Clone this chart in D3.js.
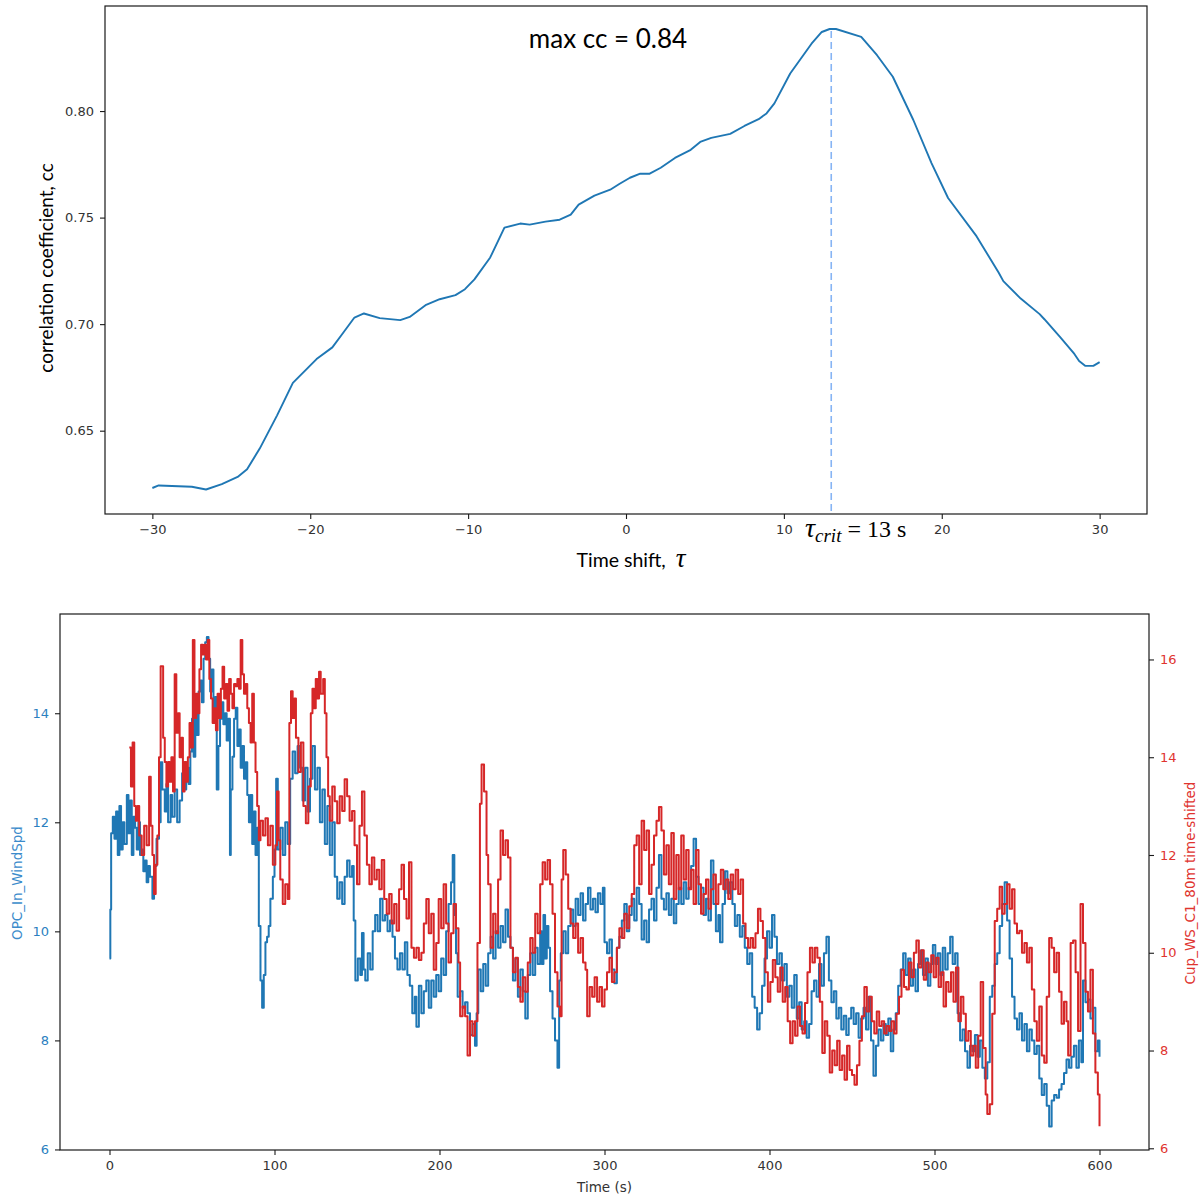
<!DOCTYPE html>
<html><head><meta charset="utf-8">
<script src="https://cdn.jsdelivr.net/npm/d3@7"></script>
<style>body{margin:0;background:#fff} svg{display:block}</style>
</head><body>
<svg id="c" width="1200" height="1196"></svg>
<script>
// ---------- Top chart data: cross-correlation vs time shift ----------
const tau = [-30,-29.6,-27.5,-26.6,-25.6,-24.6,-24.0,-23.2,-22.1,-21.1,-19.6,-18.6,-17.9,-17.2,-16.6,-15.6,-14.3,-13.7,-12.7,-11.8,-10.8,-10.2,-9.6,-8.6,-7.7,-6.7,-6.1,-5.1,-4.2,-3.5,-3.0,-2.0,-1.0,-0.4,0.25,0.9,1.5,2.2,3.1,4.1,4.7,5.4,6.6,7.5,8.4,8.9,9.4,10.4,11.75,12.4,12.9,13.3,14.9,15.9,16.9,18.2,19.35,20.4,22.2,23.6,23.9,25.0,26.2,26.5,27.5,28.4,28.7,29.1,29.6,30];
const cc  = [0.6231,0.6243,0.6237,0.6224,0.6249,0.6283,0.6319,0.6416,0.6572,0.6724,0.6836,0.6891,0.6961,0.7031,0.7050,0.7028,0.7019,0.7034,0.7089,0.7117,0.7136,0.7164,0.7210,0.7313,0.7453,0.7472,0.7467,0.7481,0.7490,0.7514,0.7561,0.7603,0.7631,0.7659,0.7687,0.7706,0.7706,0.7734,0.7780,0.7818,0.7855,0.7874,0.7893,0.7930,0.7962,0.7989,0.8036,0.8176,0.8316,0.8371,0.8385,0.8385,0.8348,0.8262,0.8161,0.7958,0.7756,0.7592,0.7413,0.7242,0.7202,0.7120,0.7047,0.7023,0.6939,0.6860,0.6827,0.6804,0.6804,0.6822];
const tauTicks = [-30,-20,-10,0,10,20,30];
const ccTicks = [0.65,0.70,0.75,0.80];
const tauCrit = 13;
const maxCC = 0.84;

// ---------- Bottom chart data: wind speed time series ----------
const opcTime = [0,0.5,1,2,3,4,5,6,7,8,9,10.5,11.5,12.5,13.5,14.5,15.5,16.5,17.5,18.5,19.5,20.5,21.5,22.5,23.5,24.5,26,27,28.5,30,31,32,33.5,34.5,35.5,37,38,39.5,41,42.5,44,45.5,46.5,48,49,50,51,52,53,54,55,56,57,58,59,60,61,62,63,64,65,66,67,68,69,70,71,72,73,73.5,74.5,75.5,76.5,77.5,78.5,79.5,80.5,81.5,82.5,83.5,84.5,85.5,86.5,87.5,88.5,89.5,90.5,91.5,92.5,93.5,94.5,95.5,96.5,97.5,99,100,101,102,103.5,105,106.5,108,109.5,111,112.5,114,115.5,117,118.5,120,121.5,123,124.5,126,127.5,129,130.5,132,133.5,135,136.5,138,139.5,141,142.5,144,145.5,147,148,149,150.5,152,153,154,155,156.5,158,159.5,161,162.5,164,165.5,167,168.5,170,171.5,173,174.5,176,177.5,179,180.5,182,183.5,185,186,187.5,189,190.5,192,193.5,195,196.5,198,199.5,201,202.5,204,205.5,207,208,209,210,211,212.5,214,215.5,217,218.5,220,221.5,222.5,223.5,225,226.5,228,229.5,231,232.5,234,235.5,237,238.5,240,241.5,243,244.5,246,247.5,249,250.5,252,253.5,255,256.5,258,259.5,261,262,263,264,265,266,267,268.5,270,271.5,272.5,273.5,275,276.5,278,279.5,281,282.5,284,285.5,287,288.5,290,291.5,293,294.5,296,297.5,299,300,301.5,303,304.5,306,307.5,309,310.5,312,313.5,315,316.5,318,319.5,321,322.5,324,325.5,327,328.5,330,331.5,333,334.5,336,337.5,339,340.5,342,343.5,345,346.5,348,349.5,351,352.5,354,355.5,357,358.5,360,361.5,363,364.5,366,367.5,369,370,371.5,373,374.5,376,377.5,379,380.5,382,383.5,385,386.5,388,389.5,391,392.5,394,395.5,397,398.5,400,401.5,403,404.5,406,407.5,409,410.5,412,413.5,415,416.5,418,419.5,421,422.5,424,425.5,427,428.5,430,431.5,433,434.5,436,437.5,439,440.5,442,443.5,445,446.5,448,449.5,451,452.5,454,455.5,457,458.5,460,461.5,463,464.5,466,467.5,469,470.5,472,473.5,475,476.5,478,479.5,481,482.5,484,485.5,487,488.5,490,491.5,493,494.5,496,497.5,499,500.5,502,503.5,505,506.5,508,509.5,511,512.5,514,515.5,517,518.5,520,521.5,523,524.5,526,527.5,529,530.5,532,533.5,535,536.5,538,539.5,541,542.5,544,545.5,547,548.5,550,551.5,553,554.5,556,557.5,559,560.5,562,563.5,565,566.5,568,569.5,571,572.5,574,575.5,577,578.5,580,581.5,583,584.5,586,587.5,589,590,591.5,593,594.5,596,597.5,599,600];
const opcSpeed = [9.5,10.4,11.8,12.1,11.7,12.2,11.4,12.3,11.5,12.0,11.6,12.5,11.8,12.4,11.4,12.1,11.9,11.5,12.0,11.4,11.5,11.1,11.3,10.9,11.2,11.0,10.6,11.2,11.7,12.0,13.1,12.6,12.2,12.7,12.0,12.5,12.1,12.6,12.0,12.4,12.9,12.6,13.0,12.7,13.3,13.9,13.2,14.2,13.6,14.4,14.6,14.2,15.0,15.3,15.4,15.0,14.4,14.8,13.9,14.3,12.6,13.4,13.9,14.2,13.8,14.0,13.5,13.9,11.4,12.6,13.2,13.9,14.1,13.4,13.7,13.0,13.4,12.8,13.1,12.5,12.0,12.5,11.6,12.2,11.4,11.9,10.1,9.1,8.6,9.2,9.8,9.9,10.1,10.6,11.0,11.5,12.8,11.5,11.9,11.4,12.0,11.6,12.8,13.3,12.9,13.4,13.0,12.4,13.0,12.2,12.8,13.4,12.6,13.0,12.0,12.6,11.6,12.3,11.4,12.0,11.0,10.6,10.9,10.5,11.0,11.3,11.0,11.2,10.2,9.1,9.5,9.2,9.97,9.3,9.1,9.6,9.3,10.0,10.3,10.0,10.6,10.2,10.3,10.0,10.2,9.9,9.5,9.3,9.6,9.3,9.8,9.2,9.0,8.5,8.8,8.25,9.0,8.5,8.9,9.1,8.6,9.1,8.8,9.2,8.9,9.5,9.2,10.0,10.5,10.9,11.4,10.3,9.6,8.8,8.9,8.6,8.7,8.5,8.1,8.3,7.9,8.5,9.3,8.9,9.4,9.0,9.6,9.9,9.5,10.0,9.7,10.1,9.8,10.4,9.9,9.7,9.1,9.5,8.8,9.3,8.9,8.4,9.2,9.6,9.2,9.7,9.4,10.0,9.4,10.3,9.5,10.1,9.7,8.9,8.4,8.0,7.5,9.1,9.6,10.0,9.6,10.1,10.4,10.1,10.6,10.3,10.7,10.2,10.5,10.8,10.4,10.6,10.35,10.7,10.5,10.8,9.8,9.6,9.85,9.3,9.05,9.7,9.9,10.2,10.5,10.0,10.3,10.6,10.2,10.8,10.5,9.85,10.2,9.8,10.4,10.6,10.2,10.8,11.4,10.6,10.4,10.7,10.3,10.6,10.15,10.5,10.8,10.5,10.9,10.6,10.8,11.2,11.7,11.0,10.5,10.8,10.3,10.6,10.2,11.3,10.5,10.0,10.3,9.8,10.5,11.1,10.7,10.9,10.5,10.1,10.3,9.9,10.1,9.7,9.4,9.6,8.8,8.6,8.2,8.5,9.0,9.5,10.0,9.7,10.3,9.9,9.4,9.6,9.1,9.4,8.8,9.0,8.6,9.2,8.4,8.7,8.2,8.35,8.05,8.3,8.9,9.1,8.8,9.4,9.0,9.6,9.9,9.1,8.7,8.9,8.4,8.6,8.2,8.45,8.1,8.4,8.6,8.3,8.5,8.05,8.4,8.6,8.2,8.8,8.0,7.35,7.9,8.2,8.0,8.3,8.1,8.4,7.8,8.2,8.5,9.0,9.3,9.6,9.2,9.5,9.0,9.3,8.9,9.4,9.65,9.2,9.5,9.0,9.4,9.75,9.4,9.6,9.2,9.7,9.3,9.6,9.9,9.4,9.6,8.5,8.0,8.2,7.8,7.5,7.9,7.8,8.1,7.7,8.0,7.5,7.3,7.6,8.8,9.0,9.4,9.6,10.1,10.5,10.9,10.2,9.5,8.8,8.4,8.2,8.5,8.0,8.3,7.8,8.2,8.0,7.75,7.9,7.3,7.0,7.2,6.8,6.42,6.9,7.0,6.95,7.1,7.2,7.4,7.65,7.5,7.7,7.9,7.5,8.0,7.6,9.1,8.7,8.75,8.4,8.6,7.8,8.0,7.7];

const cupTime = [12,13,14,15,16,17,18,19.5,21,22.5,24,25,26,27,28,29,30,31,32.5,33.5,34.5,35.5,36.5,37.5,38.5,39.5,40.5,41.5,42.5,43.5,44.5,45.5,46.5,47.5,48.5,49.5,50.5,51.5,52.5,53.5,54.5,55.5,56.5,57.5,58.5,59.5,60.5,61.5,62.5,63.5,64.5,65.5,66.5,67.5,68.5,69.5,70.5,71.5,72.5,73.5,74.5,75.5,76.5,77.5,78.5,79.5,80.5,81.5,82.5,83.5,84.5,85.5,86.5,87.5,88.5,89.5,90.5,91.5,93,94.5,96,97.5,99,100.5,101.5,102.5,103.5,105,106.5,108,109,110,111,112,113,114.5,116,117.5,119,120.5,122,123,124,125,126,127,128,129.5,130.5,131.5,132.5,133.5,135,136.5,138,139.5,141,142.5,144,145.5,147,148.5,150,151.5,153,154.5,156,157.5,159,160.5,162,163.5,165,166.5,168,169.5,171,172.5,174,175.5,177,178.5,180,181.5,183,184.5,186,187.5,189,190.5,192,193.5,195,196.5,198,199.5,201,202.5,204,205.5,207,208.5,210,211.5,212.5,214,215.5,217,218.5,220,221.5,223,224.5,225.5,227,228.5,229.5,231,232.5,234,235.5,237,238.5,240,241.5,243,244.5,246,247.5,249,250.5,252,253.5,255,256.5,258,259.5,261,262.5,264,265.5,267,268.5,270,271.5,273,274,275,276.5,278,279.5,281,282.5,284,285.5,287,288.5,289.5,291,292.5,294,295.5,297,298.5,300,301.5,303,304.5,306,307.5,309,310.5,312,313.5,315,316.5,318,319.5,321,322.5,324,325.5,327,328.5,330,331.5,333,334.5,336,337.5,339,340.5,342,343.5,345,346.5,348,349.5,351,352.5,354,355.5,357,358.5,360,361.5,363,364.5,366,367.5,369,370.5,372,373.5,375,376.5,378,379.5,381,382.5,384,385.5,387,388.5,390,391.5,393,394.5,396,397.5,399,400.5,402,403.5,405,406.5,408,409.5,411,412.5,414,415.5,417,418.5,420,421.5,423,424.5,426,427.5,429,430.5,432,433.5,435,436.5,438,439.5,441,442.5,444,445.5,447,448.5,450,451.5,453,454.5,456,457.5,459,460.5,462,463.5,465,466.5,468,469.5,471,472.5,474,475.5,477,478.5,480,481.5,483,484.5,486,487.5,489,490.5,492,493.5,495,496.5,498,499.5,501,502.5,504,505.5,507,508.5,510,511.5,513,514.5,516,517.5,519,520.5,522,523.5,525,526.5,528,529.5,531,532,533.5,535,536.5,538,539.5,541,542.5,544,545.5,547,548.5,550,551.5,553,554.5,556,557.5,559,560.5,562,563.5,565,566.5,568,569.5,571,572.5,574,575.5,577,578.5,580,581,582.5,584,585.5,587,588.5,590,591.5,593,594.5,596,597.5,599,600];
const cupSpeed = [14.2,13.4,14.3,13.0,12.7,13.0,12.4,12.0,12.6,12.2,13.6,12.6,12.0,11.2,11.8,12.4,14.0,15.86,14.4,13.9,13.4,13.9,13.5,14.0,13.3,15.7,14.5,14.9,14.0,14.4,13.3,13.9,13.5,14.0,14.7,14.2,16.4,14.8,15.3,14.9,15.8,16.3,16.1,16.3,16.0,16.4,15.6,15.2,14.7,15.0,14.55,15.3,14.8,15.4,15.85,15.2,15.5,14.95,15.6,15.3,15.0,15.5,15.45,15.6,15.4,16.4,15.7,15.3,15.5,15.0,14.7,14.3,15.3,14.3,13.7,13.0,12.3,12.7,12.4,12.75,12.2,12.6,11.8,12.2,13.3,12.3,11.5,11.0,11.4,11.1,14.7,15.35,14.8,15.2,14.4,13.7,14.3,13.0,12.65,13.4,14.9,15.4,15.0,15.6,15.2,15.75,15.3,15.6,14.9,14.0,13.2,12.7,13.4,13.1,12.65,13.2,12.9,13.55,13.2,12.7,12.9,12.2,11.4,12.6,13.3,12.4,11.8,11.4,11.95,11.5,11.7,11.3,11.9,11.1,10.8,11.2,10.6,11.0,10.45,11.3,11.8,11.1,10.7,11.85,10.1,9.9,10.1,9.85,10.0,10.6,11.1,10.4,10.8,9.65,10.2,11.1,10.5,11.4,10.6,9.8,10.4,11.0,10.5,9.8,8.7,8.9,8.7,7.9,8.6,8.3,8.6,10.2,13.05,13.85,13.3,12.0,11.4,10.1,10.8,10.4,11.5,12.5,12.0,12.3,11.95,10.1,9.6,9.9,9.3,9.0,9.5,9.2,9.8,10.3,10.0,10.8,10.4,11.4,11.85,11.5,11.9,11.4,10.8,9.6,8.9,8.7,11.5,12.1,11.6,10.9,10.6,10.3,10.6,10.0,10.3,9.8,9.65,8.7,9.3,9.1,9.5,9.0,9.3,8.9,9.25,9.6,9.9,9.4,9.6,10.1,10.5,10.3,10.8,10.5,10.95,11.2,12.2,12.4,11.4,12.7,12.1,12.5,11.2,11.8,12.4,12.7,12.98,12.5,11.6,12.2,11.4,12.45,11.1,12.0,11.3,12.4,11.5,12.1,11.3,11.7,11.0,12.1,11.4,10.8,11.2,11.5,10.9,11.3,11.6,11.0,11.4,11.7,11.3,11.5,11.1,11.6,11.3,11.7,11.2,11.5,10.6,10.3,10.1,10.3,10.1,10.4,10.9,10.65,10.3,9.6,9.0,9.4,9.85,9.5,9.2,9.7,9.0,9.3,8.6,8.15,8.6,8.3,8.9,8.5,8.35,8.97,9.6,10.1,9.8,10.1,9.9,9.0,7.95,8.6,8.3,7.55,8.0,7.7,8.2,7.6,7.9,7.4,8.1,7.6,7.5,7.3,7.7,8.2,8.7,9.3,8.8,9.1,8.6,8.35,8.8,8.5,8.6,8.35,8.5,8.4,8.6,8.35,8.75,9.1,9.65,9.3,9.25,9.8,9.5,10.0,10.25,9.7,10.05,9.45,9.8,9.6,9.95,9.5,9.9,9.3,9.6,8.9,9.4,9.2,9.6,9.0,9.7,8.6,9.1,8.75,8.2,8.4,7.9,8.1,7.65,8.3,9.4,8.05,7.1,6.7,6.9,8.75,10.65,10.9,11.35,10.8,11.0,11.4,10.9,11.3,10.6,10.4,10.45,10.0,10.2,9.8,10.1,9.25,8.6,8.2,8.9,7.9,7.75,9.1,10.3,10.1,9.6,10.0,9.2,8.55,9.0,8.6,7.9,10.2,10.25,9.6,8.4,11.0,10.2,9.2,8.8,9.65,8.35,7.55,7.1,6.45];
const timeTicks = [0,100,200,300,400,500,600];
const leftTicks = [6,8,10,12,14];
const rightTicks = [6,8,10,12,14,16];

// ---------- drawing ----------
const svg = d3.select("#c");
const BLUE = "#1f77b4", RED = "#d62728";
const tickFont = "DejaVu Sans, sans-serif";

function frame(g, L, R, T, B) {
  g.append("rect").attr("x", L).attr("y", T).attr("width", R - L).attr("height", B - T)
    .attr("fill", "none").attr("stroke", "#1a1a1a").attr("stroke-width", 1.2);
}
function styleAxis(sel, color) {
  sel.select(".domain").remove();
  sel.selectAll(".tick line").attr("stroke", "#1a1a1a").attr("stroke-width", 1.1);
  sel.selectAll(".tick text").attr("fill", color).attr("font-family", tickFont).attr("font-size", 13);
}

// Top chart
{
  const L = 105, R = 1147, T = 6, B = 514;
  const x = d3.scaleLinear().domain([-33, 33]).range([L, R]);
  const y = d3.scaleLinear().domain([0.6109, 0.8493]).range([B, T]);
  const g = svg.append("g");
  const gx = g.append("g").attr("transform", `translate(0,${B})`)
    .call(d3.axisBottom(x).tickValues(tauTicks).tickSize(5).tickPadding(6));
  styleAxis(gx, "#333");
  const gy = g.append("g").attr("transform", `translate(${L},0)`)
    .call(d3.axisLeft(y).tickValues(ccTicks).tickFormat(d3.format(".2f")).tickSize(5).tickPadding(6));
  styleAxis(gy, "#333");

  const pts = tau.map((t, i) => [t, cc[i]]);
  // dashed marker at tau_crit
  g.append("line").attr("x1", x(tauCrit)).attr("x2", x(tauCrit))
    .attr("y1", y(d3.max(cc)) + 2).attr("y2", B)
    .attr("stroke", "#86b4f4").attr("stroke-width", 1.6).attr("stroke-dasharray", "7,4");
  g.append("path").datum(pts)
    .attr("d", d3.line().x(d => x(d[0])).y(d => y(d[1])))
    .attr("fill", "none").attr("stroke", BLUE).attr("stroke-width", 1.9).attr("stroke-linejoin", "round");
  frame(g, L, R, T, B);

  g.append("text").attr("x", 608).attr("y", 48).attr("text-anchor", "middle")
    .attr("font-family", "Lato, sans-serif").attr("font-size", 26).attr("fill", "#000")
    .text("max cc = " + maxCC.toFixed(2));
  g.append("text").attr("transform", "translate(53,268) rotate(-90)").attr("text-anchor", "middle")
    .attr("font-family", "Lato, sans-serif").attr("font-size", 19).attr("fill", "#000")
    .text("correlation coefficient, cc");
  const xl = g.append("text").attr("x", 631).attr("y", 567).attr("text-anchor", "middle")
    .attr("font-family", "Lato, sans-serif").attr("font-size", 19.5).attr("fill", "#000");
  xl.append("tspan").text("Time shift,\u00a0\u00a0");
  xl.append("tspan").attr("font-family", "Liberation Serif, serif").attr("font-style", "italic").attr("font-size", 27).text("τ");
  const tc = g.append("text").attr("x", 805).attr("y", 537)
    .attr("font-family", "Liberation Serif, serif").attr("font-size", 24).attr("fill", "#000");
  tc.append("tspan").attr("font-style", "italic").attr("font-size", 28).text("τ");
  tc.append("tspan").attr("font-style", "italic").attr("font-size", 19).attr("dy", 5).text("crit");
  tc.append("tspan").attr("dy", -5).text(" = " + tauCrit + " s");
}

// Bottom chart
{
  const L = 60, R = 1149, T = 614, B = 1150;
  const x = d3.scaleLinear().domain([-30, 630]).range([L, R]);
  const yl = d3.scaleLinear().domain([5.99, 15.82]).range([B, T]);
  const yr = d3.scaleLinear().domain([5.965, 16.93]).range([B, T]);
  const g = svg.append("g");
  const gx = g.append("g").attr("transform", `translate(0,${B})`)
    .call(d3.axisBottom(x).tickValues(timeTicks).tickSize(5).tickPadding(6));
  styleAxis(gx, "#333");
  const gl = g.append("g").attr("transform", `translate(${L},0)`)
    .call(d3.axisLeft(yl).tickValues(leftTicks).tickSize(5).tickPadding(6));
  styleAxis(gl, "#2b7fc0");
  const gr = g.append("g").attr("transform", `translate(${R},0)`)
    .call(d3.axisRight(yr).tickValues(rightTicks).tickSize(5).tickPadding(6));
  styleAxis(gr, "#e0342f");

  const bluePts = opcTime.map((t, i) => [t, opcSpeed[i]]);
  const redPts = cupTime.map((t, i) => [t, cupSpeed[i]]);
  g.append("path").datum(bluePts)
    .attr("d", d3.line().curve(d3.curveStepAfter).x(d => x(d[0])).y(d => yl(d[1])))
    .attr("fill", "none").attr("stroke", BLUE).attr("stroke-width", 2).attr("stroke-linejoin", "round");
  g.append("path").datum(redPts)
    .attr("d", d3.line().curve(d3.curveStepAfter).x(d => x(d[0])).y(d => yr(d[1])))
    .attr("fill", "none").attr("stroke", RED).attr("stroke-width", 2).attr("stroke-linejoin", "round");
  frame(g, L, R, T, B);

  g.append("text").attr("x", x(300)).attr("y", 1192).attr("text-anchor", "middle")
    .attr("font-family", tickFont).attr("font-size", 13.5).attr("fill", "#333").text("Time (s)");
  g.append("text").attr("transform", "translate(22,883) rotate(-90)").attr("text-anchor", "middle")
    .attr("font-family", tickFont).attr("font-size", 13.5).attr("fill", "#3b8bcb").text("OPC_In_WindSpd");
  g.append("text").attr("transform", "translate(1195,883) rotate(-90)").attr("text-anchor", "middle")
    .attr("font-family", tickFont).attr("font-size", 13.5).attr("fill", "#e0342f").text("Cup_WS_C1_80m time-shifted");
}
</script>
</body></html>
